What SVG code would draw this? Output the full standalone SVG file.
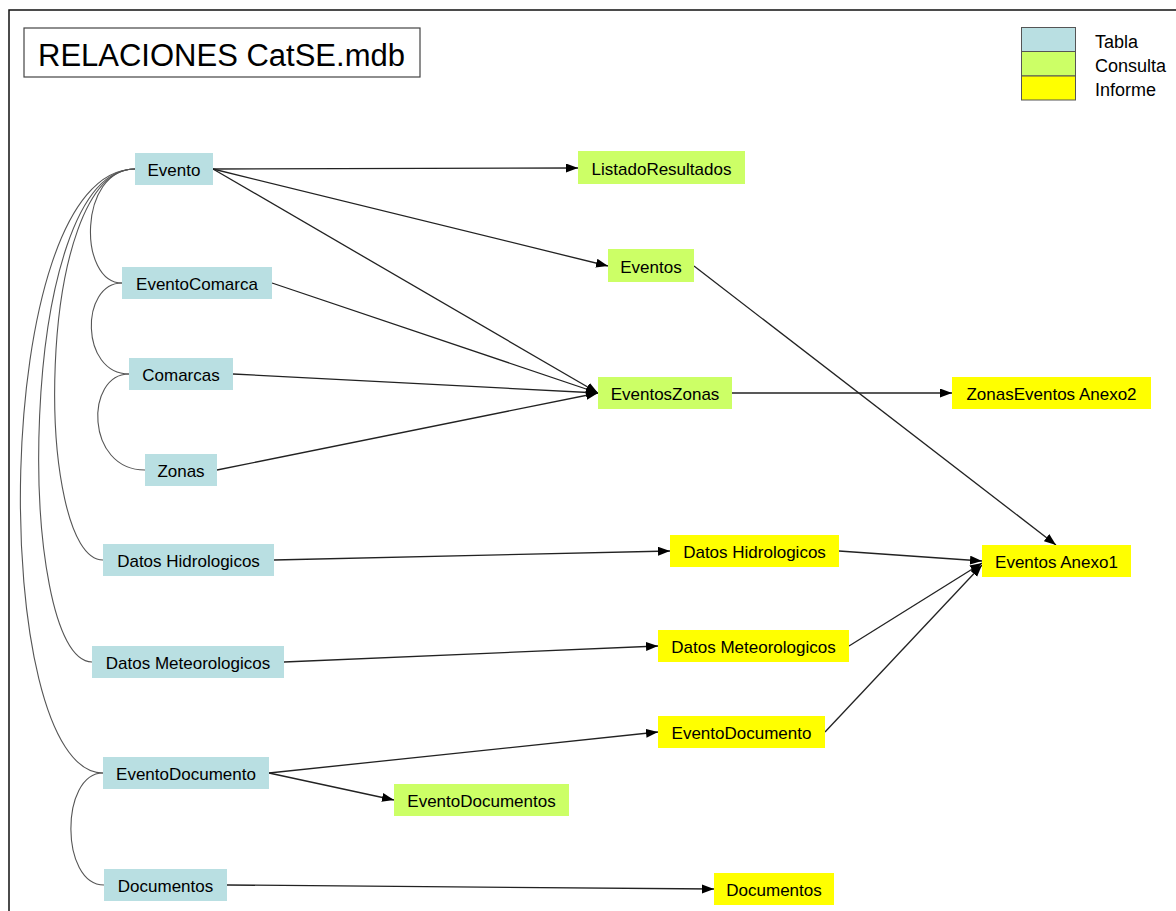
<svg xmlns="http://www.w3.org/2000/svg" width="1176" height="911" viewBox="0 0 1176 911">
  <style>
    .frame { fill: none; stroke: #111; stroke-width: 1.5; }
    .title-box { fill: #fff; stroke: #444; stroke-width: 1.2; }
    .title { font-family: "Liberation Sans", Arial, sans-serif; font-size: 31px; fill: #000; }
    .legend-text { font-family: "Liberation Sans", Arial, sans-serif; font-size: 18px; fill: #000; }
    .legend-box { stroke: #555; stroke-width: 1; }
    .tabla { fill: #b9dfe2; }
    .consulta { fill: #ccff66; }
    .informe { fill: #ffff00; }
    .node text { font-family: "Liberation Sans", Arial, sans-serif; font-size: 17px; fill: #000; text-anchor: middle; }
    .edge { fill: none; stroke: #222; stroke-width: 1.3; marker-end: url(#arrow); }
    .rel { fill: none; stroke: #555; stroke-width: 1.1; }
  </style>
  <defs>
    <marker id="arrow" markerUnits="userSpaceOnUse" markerWidth="13" markerHeight="10" refX="12" refY="4.5" orient="auto">
      <path d="M0,0 L12,4.5 L0,9 z" fill="#000"/>
    </marker>
  </defs>

  <rect width="1176" height="911" fill="#fff"/>
  <!-- page frame -->
  <rect class="frame" x="9" y="10" width="1200" height="940"/>

  <!-- title -->
  <g id="title">
    <rect class="title-box" x="24" y="28" width="396" height="49"/>
    <text class="title" x="38" y="66">RELACIONES CatSE.mdb</text>
  </g>

  <!-- legend -->
  <g id="legend">
    <rect class="legend-box tabla" x="1021.5" y="27.5" width="54" height="24"/>
    <rect class="legend-box consulta" x="1021.5" y="51.5" width="54" height="24.5"/>
    <rect class="legend-box informe" x="1021.5" y="76" width="54" height="24"/>
    <text class="legend-text" x="1095" y="48">Tabla</text>
    <text class="legend-text" x="1095" y="72">Consulta</text>
    <text class="legend-text" x="1095" y="96">Informe</text>
  </g>

  <!-- connectors -->
  <g id="connectors">
    <!-- table relationships -->
    <path class="rel" d="M135,169 C78,169 78,283 122,283"/>
    <path class="rel" d="M122,283 C80,283 80,374 129,374"/>
    <path class="rel" d="M129,374 C85,374 85,470 145,470"/>
    <path class="rel" d="M135,169 C34,169 34,560 103,560"/>
    <path class="rel" d="M135,169 C15,169 15,662 92,662"/>
    <path class="rel" d="M135,169 C-12,169 -12,773 103,773"/>
    <path class="rel" d="M103,773 C60,773 60,885 104,885"/>

    <!-- data flow -->
    <path class="edge" d="M213,169 L578,168"/>
    <path class="edge" d="M213,169 L608,266"/>
    <path class="edge" d="M213,169 L598,393"/>
    <path class="edge" d="M272,283 L598,393"/>
    <path class="edge" d="M233,374 L598,393"/>
    <path class="edge" d="M217,470 L598,393"/>
    <path class="edge" d="M694,266 L1056,545"/>
    <path class="edge" d="M732,393 L952,393"/>
    <path class="edge" d="M274,560 L670,551"/>
    <path class="edge" d="M839,551 L982,561"/>
    <path class="edge" d="M284,662 L658,646"/>
    <path class="edge" d="M849,646 L982,563"/>
    <path class="edge" d="M269,773 L658,732"/>
    <path class="edge" d="M269,773 L394,800"/>
    <path class="edge" d="M825,732 L982,565"/>
    <path class="edge" d="M227,885 L714,889"/>
  </g>

  <!-- tables -->
  <g id="n-evento" class="node"><rect class="tabla" x="135" y="153" width="78" height="32"/><text x="174" y="176">Evento</text></g>
  <g id="n-eventocomarca" class="node"><rect class="tabla" x="122" y="267" width="150" height="32"/><text x="197" y="290">EventoComarca</text></g>
  <g id="n-comarcas" class="node"><rect class="tabla" x="129" y="358" width="104" height="32"/><text x="181" y="381">Comarcas</text></g>
  <g id="n-zonas" class="node"><rect class="tabla" x="145" y="454" width="72" height="32"/><text x="181" y="477">Zonas</text></g>
  <g id="n-datoshidro" class="node"><rect class="tabla" x="103" y="544" width="171" height="32"/><text x="188.5" y="567">Datos Hidrologicos</text></g>
  <g id="n-datosmeteo" class="node"><rect class="tabla" x="92" y="646" width="192" height="32"/><text x="188" y="669">Datos Meteorologicos</text></g>
  <g id="n-eventodocumento" class="node"><rect class="tabla" x="103" y="757" width="166" height="32"/><text x="186" y="780">EventoDocumento</text></g>
  <g id="n-documentos" class="node"><rect class="tabla" x="104" y="869" width="123" height="32"/><text x="165.5" y="892">Documentos</text></g>

  <!-- queries -->
  <g id="q-listado" class="node"><rect class="consulta" x="578" y="151" width="167" height="33"/><text x="661.5" y="175">ListadoResultados</text></g>
  <g id="q-eventos" class="node"><rect class="consulta" x="608" y="249" width="86" height="33"/><text x="651" y="273">Eventos</text></g>
  <g id="q-eventoszonas" class="node"><rect class="consulta" x="598" y="377" width="134" height="32"/><text x="665" y="400">EventosZonas</text></g>
  <g id="q-eventodocumentos" class="node"><rect class="consulta" x="394" y="784" width="175" height="32"/><text x="481.5" y="807">EventoDocumentos</text></g>

  <!-- reports -->
  <g id="r-zonasanexo2" class="node"><rect class="informe" x="952" y="377" width="199" height="32"/><text x="1051.5" y="400">ZonasEventos Anexo2</text></g>
  <g id="r-datoshidro" class="node"><rect class="informe" x="670" y="535" width="169" height="32"/><text x="754.5" y="558">Datos Hidrologicos</text></g>
  <g id="r-eventosanexo1" class="node"><rect class="informe" x="982" y="545" width="149" height="32"/><text x="1056.5" y="568">Eventos Anexo1</text></g>
  <g id="r-datosmeteo" class="node"><rect class="informe" x="658" y="630" width="191" height="32"/><text x="753.5" y="653">Datos Meteorologicos</text></g>
  <g id="r-eventodocumento" class="node"><rect class="informe" x="658" y="716" width="167" height="32"/><text x="741.5" y="739">EventoDocumento</text></g>
  <g id="r-documentos" class="node"><rect class="informe" x="714" y="873" width="120" height="32"/><text x="774" y="896">Documentos</text></g>
</svg>
